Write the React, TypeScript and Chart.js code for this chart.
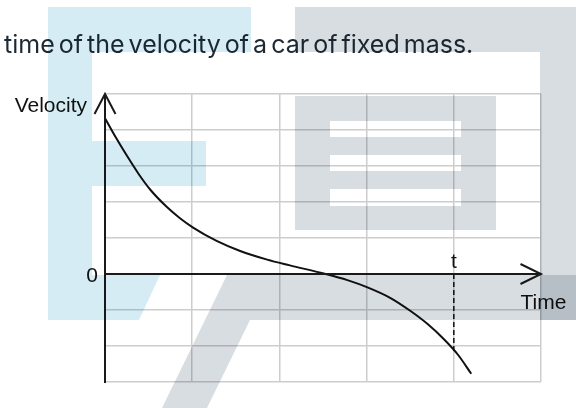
import React, { useEffect, useRef } from "react";
import { Chart, registerables } from "chart.js";

Chart.register(...registerables);

// ---- text ----
const TITLE = "time of the velocity of a car of fixed mass.";
const Y_LABEL = "Velocity";
const X_LABEL = "Time";
const ZERO_LABEL = "0";
const T_LABEL = "t";

// ---- axes ----
const X_MIN = 0;
const X_MAX = 5;
const Y_MIN = -3;
const Y_MAX = 5;
const T_MARK = 4;

// ---- curve (time, velocity) ----
const curveT = [0, 0.13, 0.25, 0.38, 0.52, 0.71, 0.86, 1.01, 1.28, 1.55, 1.86, 2.12, 2.53, 2.78, 3.01, 3.27, 3.5, 3.7, 3.89, 4.05, 4.2];
const curveV = [4.33, 3.77, 3.29, 2.8, 2.34, 1.86, 1.55, 1.29, 0.92, 0.64, 0.4, 0.24, 0, -0.17, -0.37, -0.66, -1.02, -1.39, -1.82, -2.25, -2.77];

// dashed marker at t
const dashV = [0, -2.15];

// ---- background watermark (decoration) ----
const WM_BLUE = "#d6ecf4";
const WM_GRAY = "#d8dde1";
const wmBlue: number[][][] = [
  [[48, 7], [251, 7], [251, 52], [92, 52], [92, 141], [206, 141], [206, 186], [92, 186], [92, 275], [160, 275], [139, 320], [48, 320]],
];
const wmGray: number[][][] = [
  [[295, 7], [576, 7], [576, 320], [540, 320], [540, 52], [295, 52]],
  [[227, 275], [576, 275], [576, 320], [250, 320], [207, 408], [162, 408]],
];
const wmGrayBox = [295, 96, 496, 230];
const wmWhiteBars = [
  [330, 121, 461, 137],
  [330, 155, 461, 171],
  [330, 189, 461, 206],
];

const overlay = {
  id: "overlay",
  beforeDraw(chart: any) {
    const ctx = chart.ctx;
    ctx.save();
    ctx.fillStyle = "#ffffff";
    ctx.fillRect(0, 0, chart.width, chart.height);
    ctx.restore();
  },
  afterDraw(chart: any) {
    const ctx: CanvasRenderingContext2D = chart.ctx;
    const xs = chart.scales.x;
    const ys = chart.scales.y;
    const x0 = xs.getPixelForValue(X_MIN);
    const x1 = xs.getPixelForValue(X_MAX);
    const y0 = ys.getPixelForValue(0);
    const yTop = ys.getPixelForValue(Y_MAX);
    const yBot = ys.getPixelForValue(Y_MIN);
    ctx.save();
    ctx.strokeStyle = "#1a1a1a";
    ctx.lineWidth = 2;
    ctx.lineCap = "butt";
    // y axis
    ctx.beginPath();
    ctx.moveTo(x0, yBot + 1);
    ctx.lineTo(x0, yTop);
    ctx.stroke();
    ctx.beginPath();
    ctx.moveTo(x0 - 10.5, yTop + 20);
    ctx.lineTo(x0, yTop);
    ctx.lineTo(x0 + 10.5, yTop + 20);
    ctx.stroke();
    // x axis
    ctx.beginPath();
    ctx.moveTo(x0, y0);
    ctx.lineTo(x1, y0);
    ctx.stroke();
    ctx.beginPath();
    ctx.moveTo(x1 - 20.5, y0 - 10);
    ctx.lineTo(x1, y0);
    ctx.lineTo(x1 - 20.5, y0 + 10);
    ctx.stroke();

    // labels
    ctx.fillStyle = "#111111";
    ctx.font = '21px "Liberation Sans", Arial, sans-serif';
    ctx.textBaseline = "alphabetic";
    ctx.textAlign = "right";
    ctx.fillText(Y_LABEL, x0 - 18, yTop + 17.5);
    ctx.fillText(ZERO_LABEL, x0 - 7, y0 + 8);
    ctx.textAlign = "center";
    ctx.fillText(T_LABEL, xs.getPixelForValue(T_MARK), y0 - 6);
    ctx.textAlign = "left";
    ctx.fillText(X_LABEL, x1 - 20.5, y0 + 35);

    // title text
    ctx.fillStyle = "#1d2a35";
    ctx.font = '25px Inter, "Noto Sans", sans-serif';
    (ctx as any).wordSpacing = "-3px";
    ctx.textAlign = "left";
    ctx.fillText(TITLE, 4, 53);
    (ctx as any).wordSpacing = "0px";

    // watermark (multiply so lines/text show through)
    ctx.globalCompositeOperation = "multiply";
    const poly = (pts: number[][]) => {
      ctx.beginPath();
      pts.forEach((p, i) => (i === 0 ? ctx.moveTo(p[0], p[1]) : ctx.lineTo(p[0], p[1])));
      ctx.closePath();
      ctx.fill();
    };
    ctx.fillStyle = WM_BLUE;
    wmBlue.forEach(poly);
    ctx.fillStyle = WM_GRAY;
    wmGray.forEach(poly);
    // box with white bars cut out
    ctx.beginPath();
    ctx.rect(wmGrayBox[0], wmGrayBox[1], wmGrayBox[2] - wmGrayBox[0], wmGrayBox[3] - wmGrayBox[1]);
    wmWhiteBars.forEach((b) => {
      ctx.moveTo(b[0], b[1]);
      ctx.lineTo(b[0], b[3]);
      ctx.lineTo(b[2], b[3]);
      ctx.lineTo(b[2], b[1]);
      ctx.closePath();
    });
    ctx.fill("nonzero");
    ctx.restore();
  },
};

export default function App() {
  const ref = useRef<HTMLCanvasElement | null>(null);
  useEffect(() => {
    if (!ref.current) return;
    const chart = new Chart(ref.current, {
      type: "scatter",
      data: {
        datasets: [
          {
            data: curveT.map((t, i) => ({ x: t, y: curveV[i] })),
            showLine: true,
            borderColor: "#111111",
            borderWidth: 2,
            pointRadius: 0,
            cubicInterpolationMode: "monotone",
          } as any,
          {
            data: dashV.map((v) => ({ x: T_MARK, y: v })),
            showLine: true,
            borderColor: "#111111",
            borderWidth: 1.5,
            borderDash: [5, 3],
            pointRadius: 0,
          } as any,
        ],
      },
      options: {
        animation: false,
        responsive: true,
        maintainAspectRatio: false,
        layout: { padding: { left: 105, right: 35, top: 94, bottom: 26 } },
        plugins: { legend: { display: false }, tooltip: { enabled: false }, title: { display: false } },
        scales: {
          x: {
            type: "linear",
            min: X_MIN,
            max: X_MAX,
            ticks: { display: false, stepSize: 1 },
            grid: { color: "#cdcdcd", lineWidth: 1.5, drawTicks: false },
            border: { display: false },
          },
          y: {
            type: "linear",
            min: Y_MIN,
            max: Y_MAX,
            ticks: { display: false, stepSize: 1 },
            grid: { color: "#cdcdcd", lineWidth: 1.5, drawTicks: false },
            border: { display: false },
          },
        },
      },
      plugins: [overlay],
    });
    return () => chart.destroy();
  }, []);
  return (
    <div style={{ position: "fixed", left: 0, top: 0, width: 576, height: 408, background: "#fff" }}>
      <canvas ref={ref} />
    </div>
  );
}
